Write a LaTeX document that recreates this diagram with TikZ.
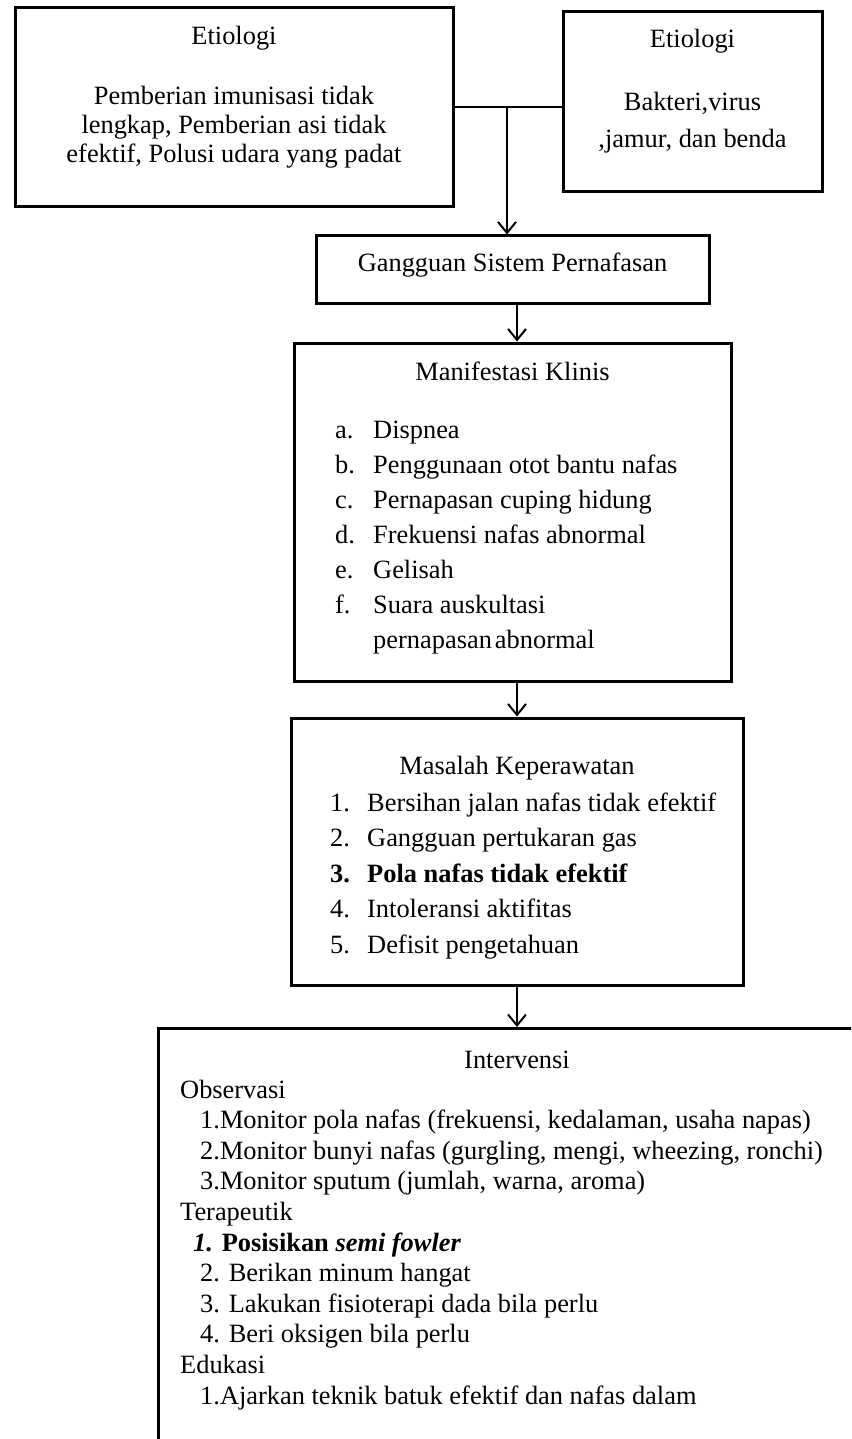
\documentclass[tikz,border=0pt]{standalone}
\usepackage{fontspec}
\setmainfont{Liberation Serif}
\usetikzlibrary{arrows.meta}
\begin{document}
\begin{tikzpicture}[x = 1pt, y = -1pt, font = \fontsize{26.4}{30}\selectfont,
		kotak/.style = {draw, line width = 3pt, inner sep = 0pt},
		judul/.style = {anchor = base, inner sep = 0pt},
		teks/.style = {anchor = base west, inner sep = 0pt},
		panah/.style = {line width = 2pt, -{Straight Barb[length = 11pt, width = 18pt, line width = 2pt]}}]
			\useasboundingbox (0, 0) rectangle (851, 1439);
			\clip (0, 0) rectangle (851, 1439);
			\def\ka{517} \def\kb{512.5}
			% kotak
			\node[kotak, minimum width = 438pt, minimum height = 199pt] (eta) at (234, 107.5) {};
			\node[kotak, minimum width = 259pt, minimum height = 180pt] (etb) at (692.5, 102) {};
			\node[kotak, minimum width = 393pt, minimum height = 67pt] (ggn) at (\kb, 269.5) {};
			\node[kotak, minimum width = 437pt, minimum height = 338pt] (mk) at (\kb, 512) {};
			\node[kotak, minimum width = 452pt, minimum height = 267pt] (mp) at (\ka, 851.5) {};
			\node[kotak, minimum width = 760pt, minimum height = 500pt, anchor = north west] (itv) at (157, 1027) {};
			% etiologi
			\node[judul] (eta-j) at (234, 45) {Etiologi};
			\foreach \t [count = \n] in {Pemberian imunisasi tidak, {lengkap, Pemberian asi tidak}, {efektif, Polusi udara yang padat}}
			\node[judul] (eta-\n) at (234, 76 + 29*\n) {\t};
			\node[judul] (etb-j) at (692.5, 48) {Etiologi};
			\node[judul] (etb-1) at (692.5, 111) {Bakteri,virus};
			\node[judul] (etb-2) at (692.5, 148) {,jamur, dan benda};
			\node[judul] (ggn-j) at (\kb, 272) {Gangguan Sistem Pernafasan};
			% manifestasi klinis
			\node[judul] (mk-j) at (\kb, 380) {Manifestasi Klinis};
			\foreach \i/\t [count = \n] in {a./Dispnea, b./Penggunaan otot bantu nafas, c./Pernapasan cuping hidung, d./Frekuensi nafas abnormal, e./Gelisah, f./Suara auskultasi, /pernapasan\hspace{3pt}abnormal}
			{\node[teks] (mk-h\n) at (335, 403 + 35*\n) {\i};
			 \node[teks] (mk-\n) at (373, 403 + 35*\n) {\t};}
			% masalah keperawatan
			\node[judul] (mp-j) at (\ka, 774) {Masalah Keperawatan};
			\foreach \i/\t [count = \n] in {1./Bersihan jalan nafas tidak efektif, 2./Gangguan pertukaran gas, \textbf{3.}/\textbf{Pola nafas tidak efektif}, 4./Intoleransi aktifitas, 5./Defisit pengetahuan}
			{\node[teks] (mp-h\n) at (330, 775.5 + 35.5*\n) {\i};
			 \node[teks] (mp-\n) at (367, 775.5 + 35.5*\n) {\t};}
			% intervensi
			\node[judul] (itv-j) at (\ka, 1068) {Intervensi};
			\foreach \x/\t [count = \n] in {180/Observasi, 200/{1.Monitor pola nafas (frekuensi, kedalaman, usaha napas)}, 200/{2.Monitor bunyi nafas (gurgling, mengi, wheezing, ronchi)}, 200/{3.Monitor sputum (jumlah, warna, aroma)}, 180/Terapeutik, 193/{\textbf{\textit{1.} Posisikan \textit{semi fowler}}}, 200/2. Berikan minum hangat, 200/3. Lakukan fisioterapi dada bila perlu, 200/4. Beri oksigen bila perlu, 180/Edukasi, 200/1.Ajarkan teknik batuk efektif dan nafas dalam}
			\node[teks] (itv-\n) at (\x, 1067.4 + 30.6*\n) {\t};
			% panah
			\coordinate (jn) at (507, 108);
			\coordinate (sb) at (\ka, 0);
			\draw[line width = 2pt] (eta.east) -- (eta.east -| etb.west);
			\draw[panah] (jn) -- (jn |- ggn.north);
			\foreach \a/\b in {ggn/mk, mk/mp, mp/itv}
			\draw[panah] (sb |- \a.south) -- (sb |- \b.north);
		\end{tikzpicture}
\end{document}
